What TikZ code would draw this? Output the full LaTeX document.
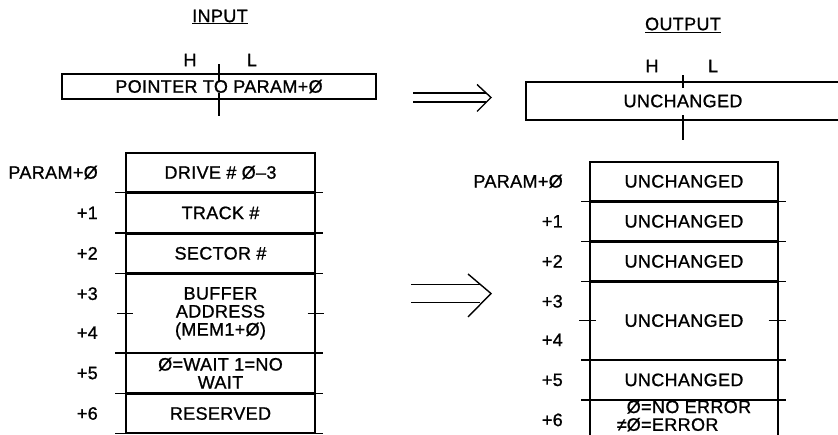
\documentclass[tikz,border=0pt]{standalone}
\usepackage{fontspec}
\setmainfont[LetterSpace=2, FakeBold=1]{Liberation Sans}
\usetikzlibrary{positioning}

\begin{document}
\begin{tikzpicture}[x=1pt,y=-1pt,
    every node/.style={font=\fontsize{18}{18}\selectfont},
    heavy/.style={line width=1.4pt},
    slot/.style={draw, heavy, minimum width=189pt, minimum height=39pt, inner sep=0pt, align=center},
    dslot/.style={slot, minimum height=78pt},
    oslot/.style={slot, minimum width=188pt, minimum height=38.6pt},
    odslot/.style={oslot, minimum height=77.2pt}]
    \useasboundingbox (0,0) rectangle (838,434);

    \node (inhead) at (220,17) {\underline{INPUT}};
    \node (outhead) at (683,25) {\underline{OUTPUT}};

    \node[draw, heavy, minimum width=314pt, minimum height=25pt, inner sep=0pt] (ptr) at (219,86.5) {POINTER TO PARAM+Ø};
    \node at (190,60) {H};
    \node at (252,60) {L};
    \draw[heavy] ([yshift=9pt]ptr.north) -- ([yshift=-9pt]ptr.north);
    \draw[heavy] ([yshift=7pt]ptr.south) -- ([yshift=-16pt]ptr.south);

    \node (optr) at (683,101) {UNCHANGED};
    \node at (652,66) {H};
    \node at (713,66) {L};
    \draw[heavy] (840,82) -| (526,120) -- (840,120);
    \draw[heavy] (683,75) -- (683,88);
    \draw[heavy] (683,115) -- (683,140);

    \coordinate (a1) at (413,97.5);
    \draw[heavy] ([yshift=4.5pt]a1) -- ++(73,0);
    \draw[heavy] ([yshift=-4.5pt]a1) -- ++(73,0);
    \draw[heavy] ([xshift=64pt,yshift=13pt]a1) -- ([xshift=78pt]a1) -- ([xshift=64pt,yshift=-14pt]a1);

    \node[slot] (d0) at (220.5,172.5) {DRIVE \# Ø–3};
    \node[slot, below=0pt of d0] (d1) {TRACK \#};
    \node[slot, below=0pt of d1] (d2) {SECTOR \#};
    \node[dslot, below=0pt of d2] (d3) {BUFFER\\ADDRESS\\(MEM1+Ø)};
    \node[slot, below=0pt of d3] (d5) {Ø=WAIT 1=NO\\WAIT};
    \node[slot, below=0pt of d5] (d6) {RESERVED};
    \foreach \r in {d0,d1,d2,d3,d5,d6}
        \draw[heavy, shorten <=-10pt, shorten >=-7pt] (\r.south west) -- (\r.south east);
    \draw[heavy] ([xshift=-8pt]d3.west) -- ([xshift=8pt]d3.west);
    \draw[heavy] ([xshift=-8pt]d3.east) -- ([xshift=8pt]d3.east);

    \node[left=24pt of d0] {PARAM+Ø};
    \node[left=24pt of d1] {+1};
    \node[left=24pt of d2] {+2};
    \node[anchor=east] at ([xshift=-24pt,yshift=19.5pt]d3.west) {+3};
    \node[anchor=east] at ([xshift=-24pt,yshift=-19.5pt]d3.west) {+4};
    \node[left=24pt of d5] {+5};
    \node[left=24pt of d6] {+6};

    \coordinate (a2) at (411,293.5);
    \draw[heavy] ([yshift=9pt]a2) -- ++(69,0);
    \draw[heavy] ([yshift=-9pt]a2) -- ++(69,0);
    \draw[heavy] ([xshift=57pt,yshift=19.5pt]a2) -- ([xshift=80pt]a2) -- ([xshift=57pt,yshift=-23.5pt]a2);

    \node[oslot] (u0) at (684,181.3) {UNCHANGED};
    \node[oslot, below=0pt of u0] (u1) {UNCHANGED};
    \node[oslot, below=0pt of u1] (u2) {UNCHANGED};
    \node[odslot, below=0pt of u2] (u3) {UNCHANGED};
    \node[oslot, below=0pt of u3] (u5) {UNCHANGED};
    \node[oslot, below=0pt of u5] (u6) {};
    \node (err) at ([yshift=2pt]u6.center) {\renewcommand\arraystretch{0.9}\begin{tabular}{@{}r@{}l@{}}&Ø=NO ERROR\\≠&Ø=ERROR\end{tabular}};
    \foreach \r in {u0,u1,u2,u3,u5}
        \draw[heavy, shorten <=-8pt, shorten >=-7pt] (\r.south west) -- (\r.south east);
    \draw[heavy] ([xshift=-10pt]u3.west) -- ([xshift=7pt]u3.west);
    \draw[heavy] ([xshift=-10pt]u3.east) -- ([xshift=7pt]u3.east);

    \node[left=23pt of u0] {PARAM+Ø};
    \node[left=23pt of u1] {+1};
    \node[left=23pt of u2] {+2};
    \node[anchor=east] at ([xshift=-23pt,yshift=19.3pt]u3.west) {+3};
    \node[anchor=east] at ([xshift=-23pt,yshift=-19.3pt]u3.west) {+4};
    \node[left=23pt of u5] {+5};
    \node[left=23pt of u6] {+6};
\end{tikzpicture}
\end{document}
